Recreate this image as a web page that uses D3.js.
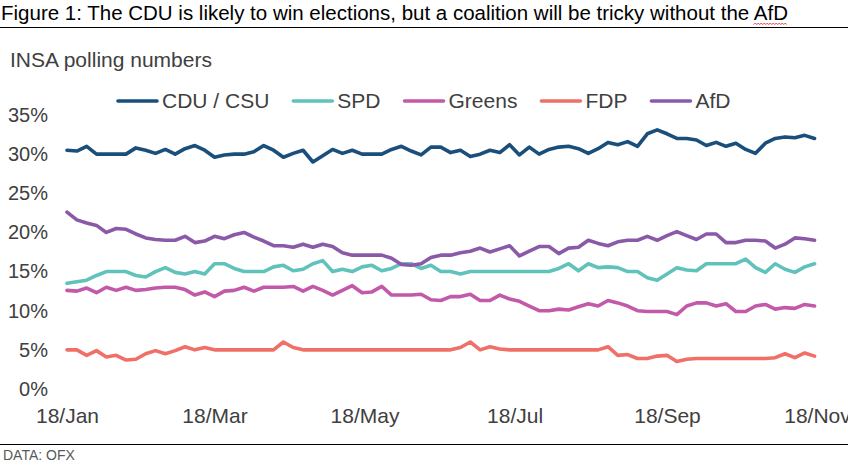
<!DOCTYPE html>
<html>
<head>
<meta charset="utf-8">
<script src="https://cdn.jsdelivr.net/npm/d3@7"></script>
<style>
  body { margin: 0; background: #fff; }
  svg { display: block; font-family: "Liberation Sans", Arial, sans-serif; }
</style>
</head>
<body>
<svg id="chart" width="848" height="467"></svg>
<script>
// Poll dates (INSA, 2024)
const dates = [
  "2024-01-18", "2024-01-22", "2024-01-26", "2024-01-30", "2024-02-03", "2024-02-07", "2024-02-11", "2024-02-15",
  "2024-02-19", "2024-02-23", "2024-02-27", "2024-03-02", "2024-03-06", "2024-03-10", "2024-03-14", "2024-03-18",
  "2024-03-22", "2024-03-26", "2024-03-30", "2024-04-03", "2024-04-07", "2024-04-11", "2024-04-15", "2024-04-19",
  "2024-04-23", "2024-04-27", "2024-05-01", "2024-05-05", "2024-05-09", "2024-05-13", "2024-05-17", "2024-05-21",
  "2024-05-25", "2024-05-29", "2024-06-02", "2024-06-06", "2024-06-10", "2024-06-14", "2024-06-18", "2024-06-22",
  "2024-06-26", "2024-06-30", "2024-07-04", "2024-07-08", "2024-07-12", "2024-07-16", "2024-07-20", "2024-07-24",
  "2024-07-28", "2024-08-01", "2024-08-05", "2024-08-09", "2024-08-13", "2024-08-17", "2024-08-21", "2024-08-25",
  "2024-08-29", "2024-09-02", "2024-09-06", "2024-09-10", "2024-09-14", "2024-09-18", "2024-09-22", "2024-09-26",
  "2024-09-30", "2024-10-04", "2024-10-08", "2024-10-12", "2024-10-16", "2024-10-20", "2024-10-24", "2024-10-28",
  "2024-11-01", "2024-11-05", "2024-11-09", "2024-11-13", "2024-11-17"
];

const cdu = [
  30.5, 30.4, 31.0, 30.0, 30.0, 30.0, 30.0, 30.8, 30.5, 30.1, 30.6, 30.0, 30.7, 31.1, 30.5, 29.6,
  29.9, 30.0, 30.0, 30.3, 31.1, 30.5, 29.6, 30.1, 30.5, 29.0, 29.8, 30.6, 30.1, 30.5, 30.0, 30.0,
  30.0, 30.6, 31.0, 30.4, 29.9, 30.9, 30.9, 30.2, 30.5, 29.7, 30.0, 30.5, 30.2, 31.2, 29.9, 30.9,
  30.0, 30.6, 30.9, 31.0, 30.7, 30.1, 30.7, 31.5, 31.2, 31.6, 31.0, 32.6, 33.1, 32.6, 32.0, 32.0,
  31.8, 31.1, 31.5, 31.0, 31.4, 30.6, 30.1, 31.4, 32.0, 32.2, 32.1, 32.4, 32.0
];
const spd = [
  13.5, 13.7, 13.9, 14.5, 15.0, 15.0, 15.0, 14.5, 14.3, 15.0, 15.5, 14.9, 14.7, 15.0, 14.7, 16.0,
  16.0, 15.4, 15.0, 15.0, 15.0, 15.6, 15.8, 15.1, 15.3, 16.0, 16.4, 15.0, 15.3, 15.0, 15.6, 15.8,
  15.1, 15.4, 16.0, 16.0, 15.4, 15.8, 15.0, 15.0, 14.7, 15.0, 15.0, 15.0, 15.0, 15.0, 15.0, 15.0,
  15.0, 15.0, 15.4, 16.0, 15.1, 16.0, 15.5, 15.6, 15.5, 15.0, 15.0, 14.2, 13.9, 14.7, 15.5, 15.2,
  15.1, 16.0, 16.0, 16.0, 16.0, 16.6, 15.5, 14.9, 16.0, 15.3, 14.9, 15.6, 16.0
];
const greens = [
  12.6, 12.5, 12.9, 12.3, 13.0, 12.6, 13.0, 12.6, 12.7, 12.9, 13.0, 13.0, 12.7, 12.0, 12.4, 11.8,
  12.5, 12.6, 13.0, 12.5, 13.0, 13.0, 13.0, 13.1, 12.5, 13.1, 12.6, 12.0, 12.6, 13.2, 12.3, 12.4,
  13.1, 12.0, 12.0, 12.0, 12.1, 11.4, 11.3, 11.8, 11.8, 12.1, 11.3, 11.3, 12.0, 11.5, 11.2, 10.6,
  10.0, 10.0, 10.2, 10.1, 10.5, 10.9, 10.6, 11.3, 11.0, 10.6, 10.0, 9.9, 9.9, 9.9, 9.5, 10.6,
  11.0, 11.0, 10.6, 10.9, 9.9, 9.9, 10.6, 10.8, 10.2, 10.4, 10.3, 10.8, 10.6
];
const fdp = [
  5.0, 5.0, 4.3, 4.9, 4.1, 4.3, 3.7, 3.8, 4.5, 4.9, 4.5, 4.9, 5.4, 5.0, 5.3, 5.0,
  5.0, 5.0, 5.0, 5.0, 5.0, 5.0, 6.0, 5.3, 5.0, 5.0, 5.0, 5.0, 5.0, 5.0, 5.0, 5.0,
  5.0, 5.0, 5.0, 5.0, 5.0, 5.0, 5.0, 5.0, 5.3, 6.0, 5.0, 5.4, 5.1, 5.0, 5.0, 5.0,
  5.0, 5.0, 5.0, 5.0, 5.0, 5.0, 5.0, 5.4, 4.3, 4.4, 3.9, 3.9, 4.2, 4.3, 3.5, 3.8,
  3.9, 3.9, 3.9, 3.9, 3.9, 3.9, 3.9, 3.9, 4.0, 4.5, 4.0, 4.6, 4.2
];
const afd = [
  22.6, 21.6, 21.2, 20.9, 20.0, 20.5, 20.4, 19.8, 19.3, 19.1, 19.0, 19.0, 19.5, 18.7, 18.9, 19.5,
  19.2, 19.7, 20.0, 19.4, 18.9, 18.3, 18.3, 18.1, 18.5, 18.1, 18.5, 18.2, 17.4, 17.1, 17.1, 17.1,
  17.1, 16.7, 15.9, 15.8, 16.0, 16.8, 17.1, 17.1, 17.4, 17.6, 18.0, 17.5, 17.9, 18.3, 17.0, 17.6,
  18.2, 18.2, 17.3, 18.0, 18.1, 19.0, 18.6, 18.3, 18.8, 19.0, 19.0, 19.5, 19.0, 19.6, 20.1, 19.6,
  19.1, 19.8, 19.8, 18.7, 18.7, 19.0, 19.0, 18.9, 18.0, 18.5, 19.3, 19.2, 19.0
];

const seriesNames = ["CDU / CSU", "SPD", "Greens", "FDP", "AfD"];
const yTicks = [0, 5, 10, 15, 20, 25, 30, 35];
const xTicks = ["2024-01-18", "2024-03-18", "2024-05-18", "2024-07-18", "2024-09-18", "2024-11-18"];
const xDomain = ["2024-01-18", "2024-11-18"];

const colors = ["#1a4f7c", "#5fc2bb", "#c25aa9", "#f07068", "#8a5aa9"];

const parse = d3.timeParse("%Y-%m-%d");
const svg = d3.select("#chart");
const W = 848, H = 467;
const plot = { left: 67, right: 817, top: 115, bottom: 389 };
const textColor = "#404040";

// Title
const title = svg.append("text")
  .attr("x", 1)
  .attr("y", 20)
  .attr("font-size", 20.5)
  .attr("fill", "#000");
title.append("tspan").text("Figure 1: The CDU is likely to win elections, but a coalition will be tricky without the ");
const afdSpan = title.append("tspan").text("AfD");

svg.append("line")
  .attr("x1", 0).attr("x2", W)
  .attr("y1", 27.5).attr("y2", 27.5)
  .attr("stroke", "#000").attr("stroke-width", 1);

// spell-check squiggle under "AfD"
const bb = afdSpan.node().getBBox();
const zz = [];
for (let x = bb.x; x <= bb.x + bb.width; x += 1.5) {
  zz.push([x, zz.length % 2 ? 23 : 24.6]);
}
svg.append("path")
  .attr("d", d3.line()(zz))
  .attr("fill", "none")
  .attr("stroke", "#e02020")
  .attr("stroke-width", 0.8);

svg.append("text")
  .attr("x", 10)
  .attr("y", 67)
  .attr("font-size", 21)
  .attr("fill", textColor)
  .text("INSA polling numbers");

// Scales
const x = d3.scaleTime()
  .domain(xDomain.map(parse))
  .range([plot.left, plot.right]);
const y = d3.scaleLinear()
  .domain([0, 35])
  .range([plot.bottom, plot.top]);

// Axes
const yAxis = svg.append("g")
  .attr("transform", "translate(48,0)")
  .call(d3.axisLeft(y).tickValues(yTicks).tickSize(0).tickPadding(0).tickFormat(d => d + "%"));
yAxis.select(".domain").remove();
yAxis.selectAll("text")
  .attr("font-size", 20)
  .attr("font-family", "Liberation Sans, Arial, sans-serif")
  .attr("fill", textColor);

const xAxis = svg.append("g")
  .attr("transform", `translate(0,${plot.bottom})`)
  .call(d3.axisBottom(x).tickValues(xTicks.map(parse)).tickSize(0).tickPadding(19)
    .tickFormat(d3.timeFormat("%d/%b")));
xAxis.select(".domain").remove();
xAxis.selectAll("text")
  .attr("font-size", 21)
  .attr("font-family", "Liberation Sans, Arial, sans-serif")
  .attr("fill", textColor);

// Data lines
const series = [cdu, spd, greens, fdp, afd].map((values, i) => ({
  name: seriesNames[i],
  color: colors[i],
  points: values.map((v, j) => ({ date: parse(dates[j]), value: v }))
}));

const line = d3.line()
  .x(d => x(d.date))
  .y(d => y(d.value));

svg.append("g")
  .selectAll("path")
  .data(series)
  .join("path")
  .attr("d", d => line(d.points))
  .attr("fill", "none")
  .attr("stroke", d => d.color)
  .attr("stroke-width", 3.6)
  .attr("stroke-linejoin", "round")
  .attr("stroke-linecap", "round");

// Legend
const legend = svg.append("g").attr("transform", "translate(118,101)");
let lx = 0;
series.forEach(s => {
  const g = legend.append("g").attr("transform", `translate(${lx},0)`);
  g.append("line")
    .attr("x1", 0).attr("x2", 39)
    .attr("stroke", s.color)
    .attr("stroke-width", 3.6)
    .attr("stroke-linecap", "round");
  const t = g.append("text")
    .attr("x", 44)
    .attr("dy", "0.35em")
    .attr("font-size", 21)
    .attr("fill", textColor)
    .text(s.name);
  lx += 44 + t.node().getComputedTextLength() + 24;
});

// Footer
svg.append("line")
  .attr("x1", 0).attr("x2", W)
  .attr("y1", 444.5).attr("y2", 444.5)
  .attr("stroke", "#000").attr("stroke-width", 1);

svg.append("text")
  .attr("x", 3)
  .attr("y", 460)
  .attr("font-size", 14)
  .attr("fill", "#595959")
  .text("DATA: OFX");
</script>
</body>
</html>
